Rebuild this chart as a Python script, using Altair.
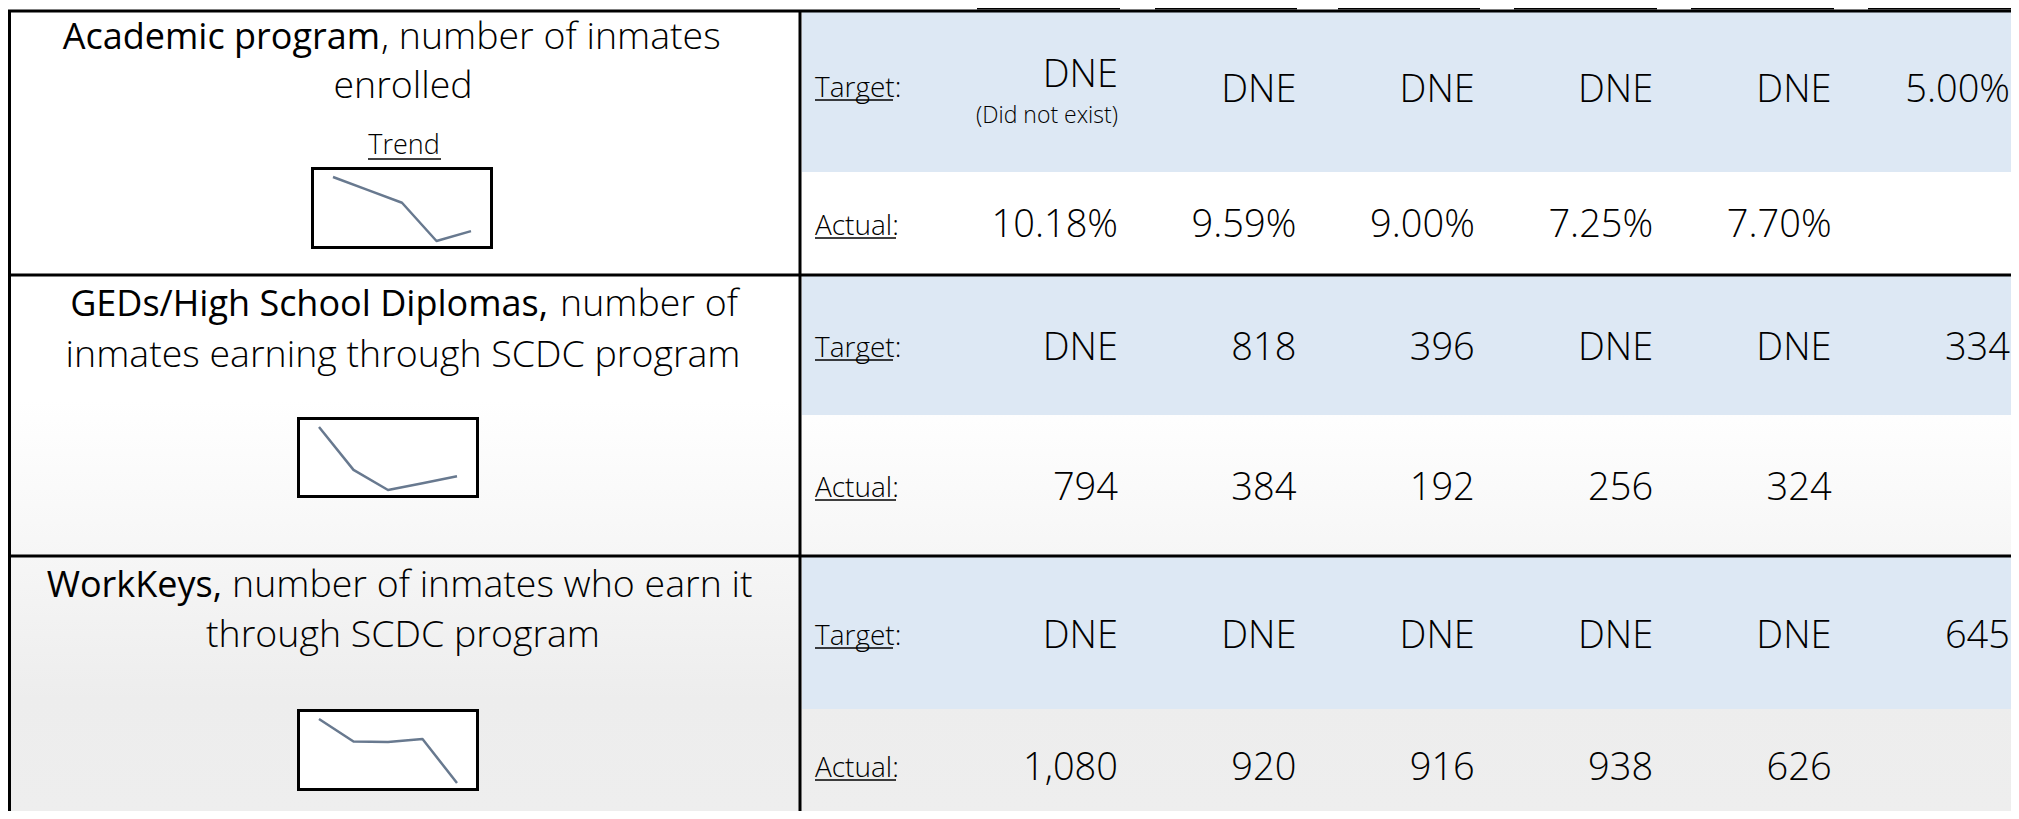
import altair as alt
import pandas as pd

# ---------------- data ----------------
ROW_BOLD = ["Academic program", "GEDs/High School Diplomas,", "WorkKeys,"]
ROW_REST = [", number of inmates", "number of", "number of inmates who earn it"]
ROW_LINE2 = ["enrolled", "inmates earning through SCDC program", "through SCDC program"]

ACADEMIC_ACTUAL = [10.18, 9.59, 9.00, 7.25, 7.70]
GED_ACTUAL = [794, 384, 192, 256, 324]
WORKKEYS_ACTUAL = [1080, 920, 916, 938, 626]

ACADEMIC_TARGET = [None, None, None, None, None, 5.00]
GED_TARGET = [None, 818, 396, None, None, 334]
WORKKEYS_TARGET = [None, None, None, None, None, 645]

DNE_LABEL = "DNE"
DNE_NOTE = "(Did not exist)"
TREND_LABEL = "Trend"
TARGET_LABEL = "Target"
ACTUAL_LABEL = "Actual"

# ---------------- layout (reference pixel space) ----------------
W, H = 2003, 803
X0, Y0 = 8, 8
FONT = "Open Sans"
PX = alt.Scale(domain=[X0, X0 + W], range=[0, W], nice=False, zero=False)
PY = alt.Scale(domain=[Y0, Y0 + H], range=[0, H], nice=False, zero=False)
COLX = alt.Scale(domain=[0, 5], range=[1118 - X0, 2010 - X0], nice=False, zero=False)

BLUE = "#DDE8F4"
LINE_COL = "#68798F"

VAL_SIZE = 38
BOLD_SIZE = 36
LIGHT_SIZE = 37.5
LBL_SIZE = 28

TITLE_CX = 403
TITLE_L1 = [49, 316, 597]
TITLE_L2 = [98, 367, 647]
BOLD_END = [380, 548, 222]
REST_START = [381, 560, 232]

LBL_X = 815
TGT_LBL_BASE = [97, 357, 645]
ACT_LBL_BASE = [235, 497, 777]
TGT_VAL_BASE = [102, 360, 648]
ACT_VAL_BASE = [237, 500, 780]

BANDS = [(10, 172), (276, 415), (557, 709)]
BOXES = [(311, 493, 167, 249), (297, 479, 417, 498), (297, 479, 709, 791)]
HEADER_UL = [(977, 1120), (1155, 1297), (1338, 1480), (1514, 1657), (1691, 1834), (1868, 2019)]


def px(**kw):
    return dict(x=alt.X("x:Q", scale=PX, axis=None), y=alt.Y("y:Q", scale=PY, axis=None), **kw)


def text_layer(df, size, weight, align, xfield="x", xscale=PX):
    return alt.Chart(df).mark_text(
        align=align, baseline="alphabetic", font=FONT, fontSize=size,
        fontWeight=weight, color="black"
    ).encode(
        x=alt.X(f"{xfield}:Q", scale=xscale, axis=None),
        y=alt.Y("y:Q", scale=PY, axis=None),
        text="t:N",
    )


layers = []

# background gradient
bg = pd.DataFrame({"x": [X0], "x2": [X0 + W], "y": [Y0], "y2": [Y0 + H]})
grad = alt.Gradient(
    gradient="linear",
    stops=[
        alt.GradientStop(color="#FFFFFF", offset=0),
        alt.GradientStop(color="#FFFFFF", offset=0.49),
        alt.GradientStop(color="#F7F7F7", offset=0.66),
        alt.GradientStop(color="#EDEDED", offset=0.86),
        alt.GradientStop(color="#EEEEEE", offset=1),
    ],
    x1=0, x2=0, y1=0, y2=1,
)
layers.append(alt.Chart(bg).mark_rect(color=grad).encode(**px(x2="x2:Q", y2="y2:Q")))

# blue target bands
bands = pd.DataFrame({"x": [802] * 3, "x2": [2019] * 3,
                      "y": [b[0] for b in BANDS], "y2": [b[1] for b in BANDS]})
layers.append(alt.Chart(bands).mark_rect(color=BLUE).encode(**px(x2="x2:Q", y2="y2:Q")))

# sparkline boxes
boxes = pd.DataFrame({"x": [b[0] + 1.5 for b in BOXES], "x2": [b[1] - 1.5 for b in BOXES],
                      "y": [b[2] + 1.5 for b in BOXES], "y2": [b[3] - 1.5 for b in BOXES]})
layers.append(alt.Chart(boxes).mark_rect(fill="white", stroke="black", strokeWidth=3)
              .encode(**px(x2="x2:Q", y2="y2:Q")))

# sparklines
for series, (l, r, t, b) in zip([ACADEMIC_ACTUAL, GED_ACTUAL, WORKKEYS_ACTUAL], BOXES):
    d = pd.DataFrame({"i": list(range(len(series))), "v": series})
    layers.append(
        alt.Chart(d).mark_line(color=LINE_COL, strokeWidth=2.5, strokeJoin="round").encode(
            x=alt.X("i:Q", scale=alt.Scale(domain=[0, len(series) - 1],
                                           range=[l + 22 - X0, r - 22 - X0], nice=False, zero=False), axis=None),
            y=alt.Y("v:Q", scale=alt.Scale(domain=[min(series), max(series)],
                                           range=[b - 8 - Y0, t + 10 - Y0], nice=False, zero=False), axis=None),
        )
    )

# grid lines
rules = pd.DataFrame({
    "x":  [9.5, 8, 8, 8, 800],
    "x2": [9.5, 2019, 2019, 2019, 800],
    "y":  [10, 11, 275, 556, 10],
    "y2": [819, 11, 275, 556, 819],
})
layers.append(alt.Chart(rules).mark_rule(color="black", strokeWidth=3)
              .encode(**px(x2="x2:Q", y2="y2:Q")))

# header underline remnants
hul = pd.DataFrame({"x": [h[0] for h in HEADER_UL], "x2": [h[1] for h in HEADER_UL],
                    "y": [Y0] * 6, "y2": [Y0 + 1.5] * 6})
layers.append(alt.Chart(hul).mark_rect(color="black").encode(**px(x2="x2:Q", y2="y2:Q")))

# label underlines (Target / Actual / Trend)
ul_rows = []
for i in range(3):
    ul_rows.append({"x": LBL_X, "x2": 893, "y": TGT_LBL_BASE[i] + 3, "y2": TGT_LBL_BASE[i] + 3})
    ul_rows.append({"x": LBL_X, "x2": 896, "y": ACT_LBL_BASE[i] + 3, "y2": ACT_LBL_BASE[i] + 3})
ul_rows.append({"x": 368, "x2": 441, "y": 159, "y2": 159})
layers.append(alt.Chart(pd.DataFrame(ul_rows)).mark_rule(color="black", strokeWidth=1.5)
              .encode(**px(x2="x2:Q", y2="y2:Q")))

# titles
bold_df = pd.DataFrame({"x": BOLD_END, "y": TITLE_L1, "t": ROW_BOLD})
rest_df = pd.DataFrame({"x": REST_START, "y": TITLE_L1, "t": ROW_REST})
l2_df = pd.DataFrame({"x": [TITLE_CX] * 3, "y": TITLE_L2, "t": ROW_LINE2})
layers.append(text_layer(bold_df, BOLD_SIZE, 400, "right"))
layers.append(text_layer(rest_df, LIGHT_SIZE, 300, "left"))
layers.append(text_layer(l2_df, LIGHT_SIZE, 300, "center"))
layers.append(text_layer(pd.DataFrame({"x": [404], "y": [154], "t": [TREND_LABEL]}), 27, 300, "center"))

# row labels
lbl = pd.DataFrame({
    "x": [LBL_X] * 6,
    "y": TGT_LBL_BASE + ACT_LBL_BASE,
    "t": [TARGET_LABEL + ":"] * 3 + [ACTUAL_LABEL + ":"] * 3,
})
layers.append(text_layer(lbl, LBL_SIZE, 300, "left"))


# values
def fmt_pct(v):
    return f"{v:.2f}%"


def fmt_int(v):
    return f"{int(v):,}"


targets = [ACADEMIC_TARGET, GED_TARGET, WORKKEYS_TARGET]
actuals = [ACADEMIC_ACTUAL, GED_ACTUAL, WORKKEYS_ACTUAL]
fmts = [fmt_pct, fmt_int, fmt_int]
vals = []
for r in range(3):
    for c, v in enumerate(targets[r]):
        if v is None:
            if r == 0 and c == 0:
                continue
            t = DNE_LABEL
        else:
            t = fmts[r](v)
        vals.append({"col": c, "y": TGT_VAL_BASE[r], "t": t})
    for c, v in enumerate(actuals[r]):
        vals.append({"col": c, "y": ACT_VAL_BASE[r], "t": fmts[r](v)})
layers.append(text_layer(pd.DataFrame(vals), VAL_SIZE, 300, "right", xfield="col", xscale=COLX))

# first academic target cell: DNE + note
layers.append(text_layer(pd.DataFrame({"col": [0], "y": [87], "t": [DNE_LABEL]}), VAL_SIZE, 300, "right",
                         xfield="col", xscale=COLX))
layers.append(text_layer(pd.DataFrame({"col": [0], "y": [123], "t": [DNE_NOTE]}), 23, 300, "right",
                         xfield="col", xscale=COLX))

chart = alt.layer(*layers).resolve_scale(x="independent", y="independent").properties(
    width=W, height=H, padding=0,
    autosize=alt.AutoSizeParams(type="none"),
).configure_view(stroke=None).configure(background="white")

chart.save("out.html", embed_options={"renderer": "svg", "actions": False})
